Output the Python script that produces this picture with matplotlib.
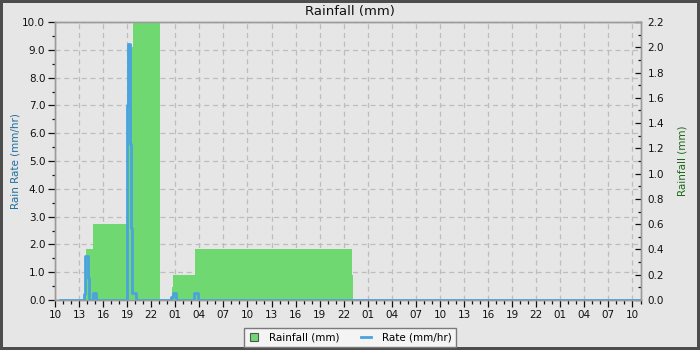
import matplotlib
matplotlib.use("Agg")
import matplotlib.pyplot as plt
from matplotlib.lines import Line2D
from matplotlib.ticker import MultipleLocator, FixedLocator, FormatStrFormatter

# ---- data (hours since 10:00 on day 1) ----
rain_t = [0.0, 3.65, 3.87, 4.78, 9.0, 9.73, 13.09, 14.55, 14.75, 17.46, 37.0, 37.12, 73.0]
rain_v = [0.0, 0.05, 0.4, 0.6, 2.0, 2.6, 0.0, 0.1, 0.2, 0.4, 0.2, 0.0, 0.0]

rate_t = [0.62, 3.62, 3.78, 4.08, 4.2, 4.7, 5.11, 8.98, 9.1, 9.35, 9.44, 9.56, 9.66,
          10.1, 14.5, 14.65, 15.05, 17.33, 17.8, 73.0]
rate_v = [0.0, 0.2, 1.6, 0.8, 0.0, 0.25, 0.0, 7.0, 9.2, 5.6, 2.6, 1.1, 0.25,
          0.0, 0.1, 0.25, 0.0, 0.25, 0.0, 0.0]

xtick_pos = list(range(0, 73, 3))
xtick_labels = ["10", "13", "16", "19", "22", "01", "04", "07",
                "10", "13", "16", "19", "22", "01", "04", "07",
                "10", "13", "16", "19", "22", "01", "04", "07", "10"]

BG = "#e6e6e6"
GREEN = "#70d870"
BLUE = "#4aa3df"

fig = plt.figure(figsize=(7, 3.5), dpi=100)
fig.patch.set_facecolor(BG)
fig.patch.set_edgecolor("#4d4d4d")
fig.patch.set_linewidth(4)

ax1 = fig.add_axes([55/700, 1-300/350, (640.5-55)/700, (300-22)/350])
ax1.set_facecolor(BG)
ax2 = ax1.twinx()

ax1.set_xlim(0, 73)
ax1.set_ylim(0, 10)
ax2.set_ylim(0, 2.2)

# grid on rate axis (left)
ax1.grid(True, which="major", axis="both", color="#bdbdbd", linestyle=(0, (4, 3)), linewidth=0.9)
ax1.set_axisbelow(True)

# rainfall fill on right axis
ax2.fill_between(rain_t, rain_v, step="post", color=GREEN, linewidth=0, zorder=2)
# rate line on left scale, drawn above fill
ax2.plot(rate_t, rate_v, drawstyle="steps-post", color=BLUE, linewidth=2.0,
         transform=ax1.transData, zorder=3, clip_on=True)

ax1.xaxis.set_major_locator(FixedLocator(xtick_pos))
ax1.set_xticklabels(xtick_labels)
ax1.xaxis.set_minor_locator(MultipleLocator(1))
ax1.yaxis.set_major_locator(MultipleLocator(1.0))
ax1.yaxis.set_minor_locator(MultipleLocator(0.5))
ax1.yaxis.set_major_formatter(FormatStrFormatter("%.1f"))
ax2.yaxis.set_major_locator(MultipleLocator(0.2))
ax2.yaxis.set_minor_locator(MultipleLocator(0.1))
ax2.yaxis.set_major_formatter(FormatStrFormatter("%.1f"))

fs = 7.5
ax1.tick_params(axis="x", which="major", length=5, width=0.9, labelsize=fs, pad=2, colors="#111111")
ax1.tick_params(axis="x", which="minor", length=3, width=0.9, colors="#111111")
ax1.tick_params(axis="y", which="major", length=5, width=0.9, labelsize=fs, pad=2, colors="#111111")
ax1.tick_params(axis="y", which="minor", length=2.5, width=0.9, colors="#111111")
ax2.tick_params(axis="y", which="major", direction="in", length=4, width=0.9, labelsize=fs, pad=5, colors="#111111")
ax2.tick_params(axis="y", which="minor", direction="in", length=2.5, width=0.9, colors="#111111")

for ax in (ax1, ax2):
    for s in ax.spines.values():
        s.set_color("#9a9a9a")
        s.set_linewidth(1.0)

ax1.set_ylabel("Rain Rate (mm/hr)", fontsize=fs, color="#1f6fa0", labelpad=1)
ax2.set_ylabel("Rainfall (mm)", fontsize=fs, color="#1a6b1a", labelpad=10)
fig.text(0.5, 1-11/350, "Rainfall (mm)", ha="center", va="center", fontsize=9.5, color="#111111")

handles = [
    Line2D([], [], marker="s", linestyle="none", markersize=6,
           markerfacecolor=GREEN, markeredgecolor="#555555", markeredgewidth=0.8),
    Line2D([], [], color=BLUE, linewidth=2),
]
leg = fig.legend(handles, ["Rainfall (mm)", "Rate (mm/hr)"], loc="center",
                 bbox_to_anchor=(350/700, 1-337.5/350), ncol=2, fontsize=fs,
                 frameon=True, fancybox=False, framealpha=1, handlelength=1.0,
                 columnspacing=2.0, borderpad=0.45, handletextpad=1.0)
leg.get_frame().set_facecolor("#f4f4f4")
leg.get_frame().set_edgecolor("#7a7a7a")
leg.get_frame().set_linewidth(1.0)

fig.savefig("out.png", dpi=100, facecolor=fig.get_facecolor(), edgecolor=fig.get_edgecolor())
